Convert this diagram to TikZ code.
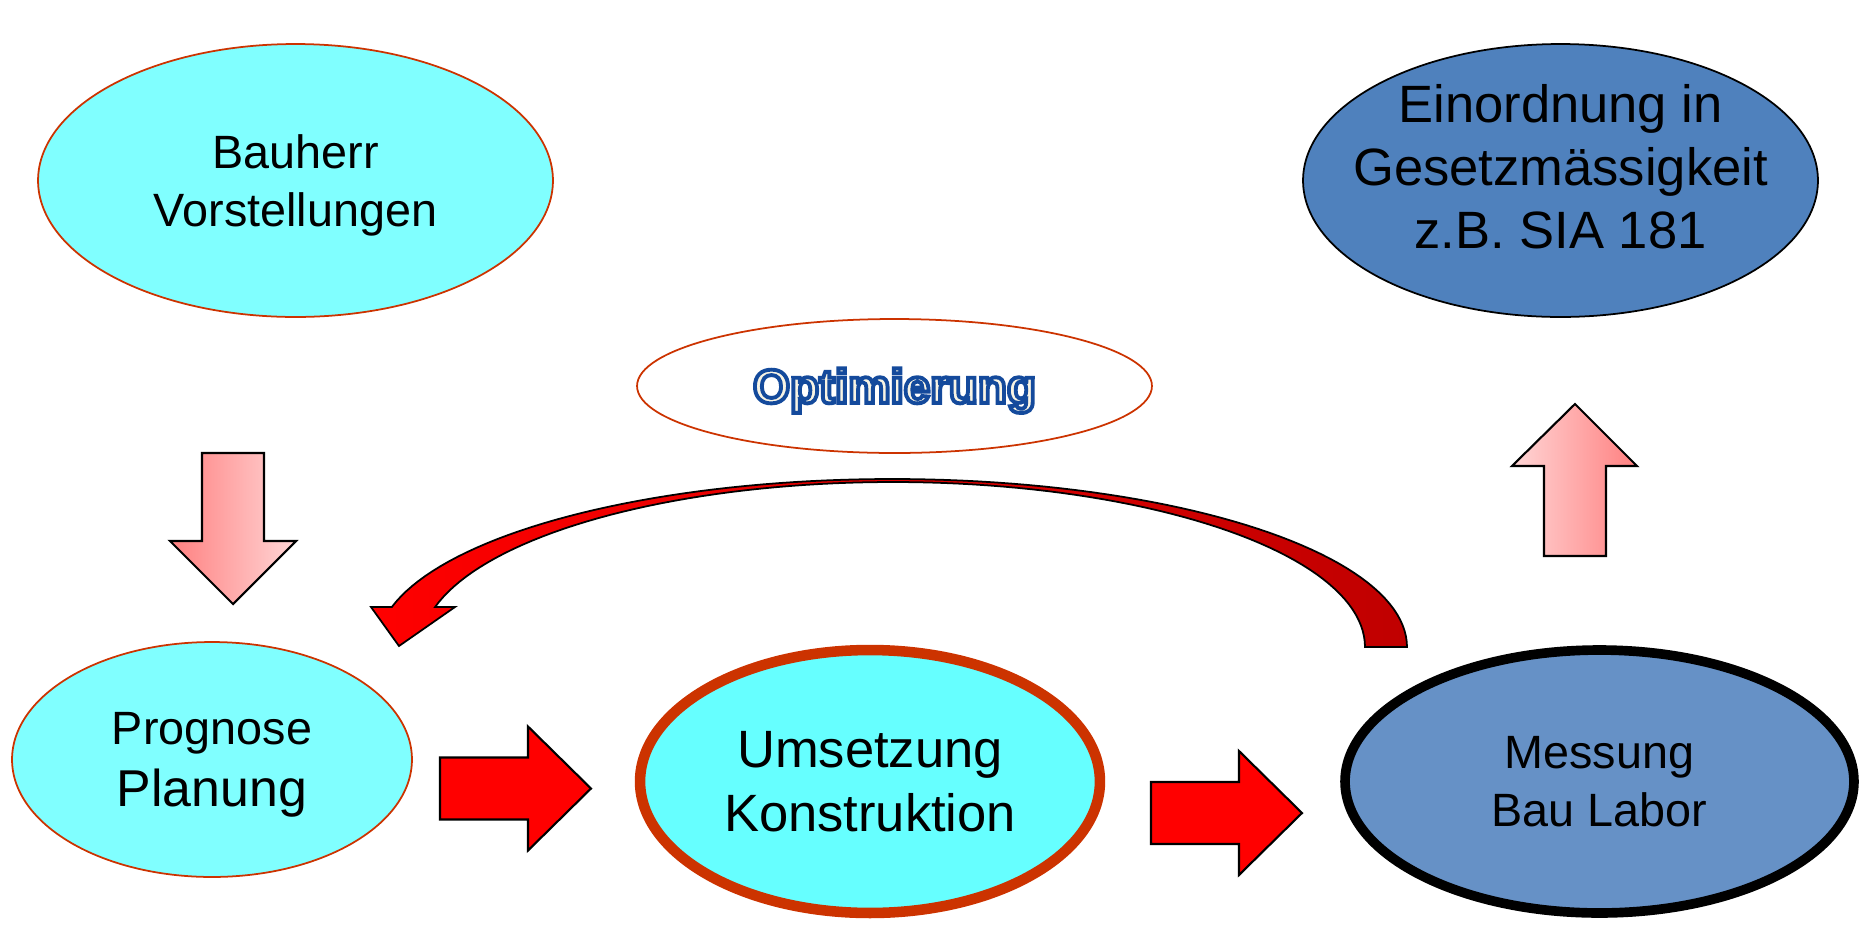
\documentclass[tikz,border=0pt]{standalone}
\usepackage{fontspec}
\setmainfont{Liberation Sans}
\usetikzlibrary{shapes.geometric}
\definecolor{ovalcyan}{RGB}{128, 255, 255}
\definecolor{ovalcyanb}{RGB}{102, 255, 255}
\definecolor{ovalblue}{RGB}{79, 129, 189}
\definecolor{ovalblueb}{RGB}{102, 145, 198}
\definecolor{ovalred}{RGB}{204, 51, 0}
\definecolor{pinkdark}{RGB}{255, 128, 128}
\definecolor{pinklight}{RGB}{255, 214, 214}
\definecolor{loopred}{RGB}{192, 0, 0}
\definecolor{optcream}{RGB}{248, 244, 228}
% outlined letters: fill in the current colour, blue stroke
\newcommand{\outlinetext}[1]{{\color{optcream}\special{pdf:code q 2 Tr 2.2 w 0.08 0.29 0.61 RG}#1\special{pdf:code Q}}}

\begin{document}
\begin{tikzpicture}[x=0.02cm, y=-0.02cm,
  oval/.style={ellipse, inner xsep=-2cm, inner ysep=0pt, align=center, line width=1pt,
    minimum width=10.3cm, minimum height=5.46cm},
  blockarrow/.style={draw=black, line width=1.2pt, line join=miter}]
  \useasboundingbox (0,0) rectangle (1864,924);

  % Loop back arrow (Messung -> Prognose)
  \shadedraw[draw=black, line width=1pt, left color=red, middle color=red, right color=loopred]
    (371,607) -- plot[domain=193.8:360, samples=90] ({892+515*cos(\x)},{647+168*sin(\x)})
    -- plot[domain=360:194, samples=90] ({893+472*cos(\x)},{647+165*sin(\x)})
    -- (455,607) -- (399,646) -- cycle;

  % Ovals
  \node[oval, fill=ovalcyan, draw=ovalred, text depth=-3.8pt,
    font=\fontsize{26.6}{33.5}\selectfont]
    (bauherr) at (295.5,180.5) {Bauherr\\Vorstellungen};
  \node[oval, fill=ovalblue, draw=black, text depth=15.9pt,
    font=\fontsize{29.9}{35.7}\selectfont]
    (einordnung) at (1560.5,180.5) {Einordnung in\\Gesetzmässigkeit\\z.B. SIA 181};
  \node[oval, fill=white, draw=ovalred, minimum height=2.68cm, text height=25pt,
    font=\bfseries\fontsize{27.1}{32}\selectfont]
    (optimierung) at (894.5,386) {\outlinetext{Optimierung}};
  \node[oval, fill=ovalcyan, draw=ovalred, minimum width=8cm, minimum height=4.7cm,
    text depth=-4.6pt, font=\fontsize{26.6}{35}\selectfont]
    (prognose) at (212,759.5) {Prognose\\\fontsize{29.5}{35}\selectfont Planung};
  \node[oval, fill=ovalcyanb, draw=ovalred, line width=6pt, minimum width=9.2cm,
    minimum height=5.26cm, font=\fontsize{29.9}{36.4}\selectfont]
    (umsetzung) at (870,781.5) {Umsetzung\\Konstruktion};
  \node[oval, fill=ovalblueb, draw=black, line width=5.5pt, minimum width=10.18cm,
    minimum height=5.26cm, text depth=-5.6pt, font=\fontsize{26.6}{33}\selectfont]
    (messung) at (1599.5,781.5) {Messung\\Bau Labor};

  % Pink arrows
  \shadedraw[blockarrow, left color=pinkdark, right color=pinklight]
    (202,453) -- (264,453) -- (264,541) -- (296,541) -- (233,604) -- (170,541) -- (202,541) -- cycle;
  \shadedraw[blockarrow, left color=pinklight, right color=pinkdark]
    (1544,556) -- (1606,556) -- (1606,466) -- (1637,466) -- (1575,404) -- (1512,466) -- (1544,466) -- cycle;

  % Red arrows
  \foreach \xa/\ya in {440/788.5, 1151/813}{
    \filldraw[blockarrow, fill=red]
      (\xa,\ya-31) -- ({\xa+88},\ya-31) -- ({\xa+88},\ya-62) -- ({\xa+151},\ya)
      -- ({\xa+88},\ya+62) -- ({\xa+88},\ya+31) -- (\xa,\ya+31) -- cycle;
  }
\end{tikzpicture}
\end{document}
